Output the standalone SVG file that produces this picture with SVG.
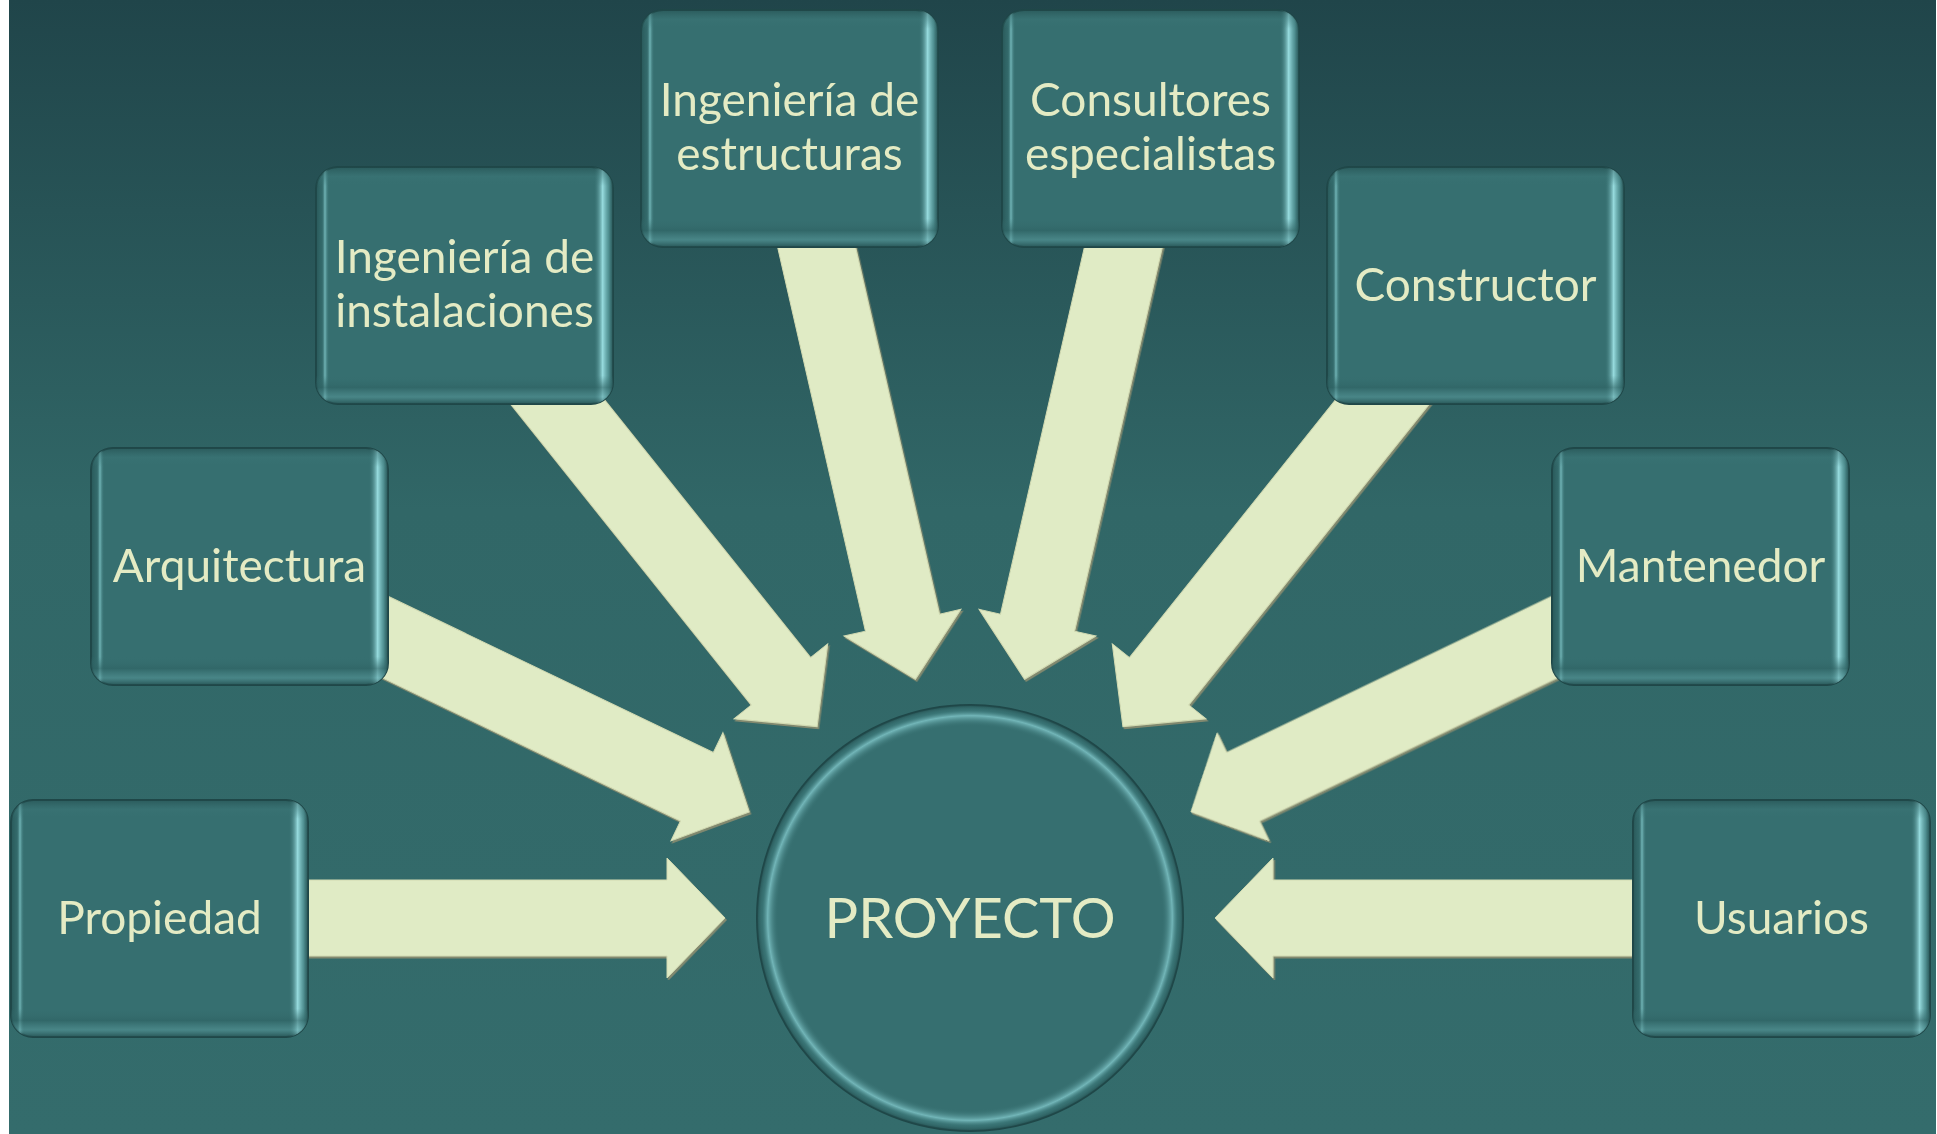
<svg xmlns="http://www.w3.org/2000/svg" width="1937" height="1134" viewBox="0 0 1937 1134">
<defs>
<linearGradient id="bg" x1="0" y1="0" x2="0" y2="1">
<stop offset="0" stop-color="#20454A"/>
<stop offset="0.45" stop-color="#316767"/>
<stop offset="1" stop-color="#346C6C"/>
</linearGradient>
<linearGradient id="bevH" x1="0" y1="0" x2="1" y2="0">
<stop offset="0" stop-color="#1F4748" stop-opacity="0.6"/>
<stop offset="0.02" stop-color="#2B5C5D" stop-opacity="0.3"/>
<stop offset="0.03" stop-color="#7CC2C4" stop-opacity="0.85"/>
<stop offset="0.045" stop-color="#366F70" stop-opacity="0"/>
<stop offset="0.935" stop-color="#366F70" stop-opacity="0"/>
<stop offset="0.965" stop-color="#A2E8EB" stop-opacity="0.9"/>
<stop offset="0.985" stop-color="#5C9FA1" stop-opacity="0.7"/>
<stop offset="1" stop-color="#1F4748" stop-opacity="0.6"/>
</linearGradient>
<linearGradient id="bevV" x1="0" y1="0" x2="0" y2="1">
<stop offset="0" stop-color="#1F4748" stop-opacity="0.5"/>
<stop offset="0.04" stop-color="#3C7677" stop-opacity="0.4"/>
<stop offset="0.08" stop-color="#366F70" stop-opacity="0"/>
<stop offset="0.88" stop-color="#366F70" stop-opacity="0"/>
<stop offset="0.93" stop-color="#2E6263" stop-opacity="0.6"/>
<stop offset="0.97" stop-color="#5B9C9E" stop-opacity="0.5"/>
<stop offset="1" stop-color="#1F4748" stop-opacity="0.6"/>
</linearGradient>
<radialGradient id="ring" cx="0.5" cy="0.5" r="0.5">
<stop offset="0" stop-color="#366F70" stop-opacity="0"/>
<stop offset="0.9" stop-color="#366F70" stop-opacity="0"/>
<stop offset="0.95" stop-color="#86CDD0" stop-opacity="0.75"/>
<stop offset="0.975" stop-color="#3D7A7B" stop-opacity="0.4"/>
<stop offset="1" stop-color="#1F4748" stop-opacity="0.7"/>
</radialGradient>
<filter id="ash" x="-5%" y="-5%" width="110%" height="110%">
<feDropShadow dx="1.5" dy="2" stdDeviation="0.6" flood-color="#8A8D70" flood-opacity="0.9"/>
</filter>
<path id="arw" d="M -565 -38 L -58 -38 L -58 -60 L 0 0 L -58 60 L -58 38 L -565 38 Z"/>
</defs>
<style>
.box { fill: #366F70; stroke: #1F4748; stroke-width: 2; }
.bh { fill: url(#bevH); }
.bv { fill: url(#bevV); }
.arrow { fill: #E0EBC5; stroke: #D2DAB2; stroke-width: 1; }
.lbl { font-family: Lato, "Liberation Sans", sans-serif; font-size: 46px; fill: #E4EBC4; text-anchor: middle; }
.big { font-size: 56px; }
</style>
<rect x="0" y="0" width="1937" height="1134" fill="#FFFFFF"/>
<rect x="9" y="0" width="1927" height="1134" fill="url(#bg)"/>

<g id="connectors" filter="url(#ash)">
<use href="#arw" class="arrow" transform="translate(725,918)"/>
<use href="#arw" class="arrow" transform="translate(749.2,811.9) rotate(25.66)"/>
<use href="#arw" class="arrow" transform="translate(817.1,726.6) rotate(51.36)"/>
<use href="#arw" class="arrow" transform="translate(915.4,679.2) rotate(77.12)"/>
<use href="#arw" class="arrow" transform="translate(1024.6,679.2) rotate(102.88)"/>
<use href="#arw" class="arrow" transform="translate(1122.9,726.6) rotate(128.64)"/>
<use href="#arw" class="arrow" transform="translate(1190.8,811.9) rotate(154.34)"/>
<use href="#arw" class="arrow" transform="translate(1215,918) rotate(180)"/>
</g>

<g id="proyecto">
<circle cx="970" cy="918" r="213" fill="#366F70" stroke="#1F4748" stroke-width="2"/>
<circle cx="970" cy="918" r="213" fill="url(#ring)"/>
<text class="lbl big" x="970" y="938">PROYECTO</text>
</g>

<g id="propiedad">
<rect class="box" x="11" y="800" width="297" height="237" rx="22"/>
<rect class="bh" x="11" y="800" width="297" height="237" rx="22"/>
<rect class="bv" x="11" y="800" width="297" height="237" rx="22"/>
<text class="lbl" x="159.5" y="934">Propiedad</text>
</g>

<g id="arquitectura">
<rect class="box" x="91" y="448" width="297" height="237" rx="22"/>
<rect class="bh" x="91" y="448" width="297" height="237" rx="22"/>
<rect class="bv" x="91" y="448" width="297" height="237" rx="22"/>
<text class="lbl" x="239.5" y="582">Arquitectura</text>
</g>

<g id="instalaciones">
<rect class="box" x="316" y="167" width="297" height="237" rx="22"/>
<rect class="bh" x="316" y="167" width="297" height="237" rx="22"/>
<rect class="bv" x="316" y="167" width="297" height="237" rx="22"/>
<text class="lbl" x="464.5" y="273">Ingeniería de</text>
<text class="lbl" x="464.5" y="327">instalaciones</text>
</g>

<g id="estructuras">
<rect class="box" x="641" y="10" width="297" height="237" rx="22"/>
<rect class="bh" x="641" y="10" width="297" height="237" rx="22"/>
<rect class="bv" x="641" y="10" width="297" height="237" rx="22"/>
<text class="lbl" x="789.5" y="116">Ingeniería de</text>
<text class="lbl" x="789.5" y="170">estructuras</text>
</g>

<g id="consultores">
<rect class="box" x="1002" y="10" width="297" height="237" rx="22"/>
<rect class="bh" x="1002" y="10" width="297" height="237" rx="22"/>
<rect class="bv" x="1002" y="10" width="297" height="237" rx="22"/>
<text class="lbl" x="1150.5" y="116">Consultores</text>
<text class="lbl" x="1150.5" y="170">especialistas</text>
</g>

<g id="constructor">
<rect class="box" x="1327" y="167" width="297" height="237" rx="22"/>
<rect class="bh" x="1327" y="167" width="297" height="237" rx="22"/>
<rect class="bv" x="1327" y="167" width="297" height="237" rx="22"/>
<text class="lbl" x="1475.5" y="301">Constructor</text>
</g>

<g id="mantenedor">
<rect class="box" x="1552" y="448" width="297" height="237" rx="22"/>
<rect class="bh" x="1552" y="448" width="297" height="237" rx="22"/>
<rect class="bv" x="1552" y="448" width="297" height="237" rx="22"/>
<text class="lbl" x="1700.5" y="582">Mantenedor</text>
</g>

<g id="usuarios">
<rect class="box" x="1633" y="800" width="297" height="237" rx="22"/>
<rect class="bh" x="1633" y="800" width="297" height="237" rx="22"/>
<rect class="bv" x="1633" y="800" width="297" height="237" rx="22"/>
<text class="lbl" x="1781.5" y="934">Usuarios</text>
</g>
</svg>
